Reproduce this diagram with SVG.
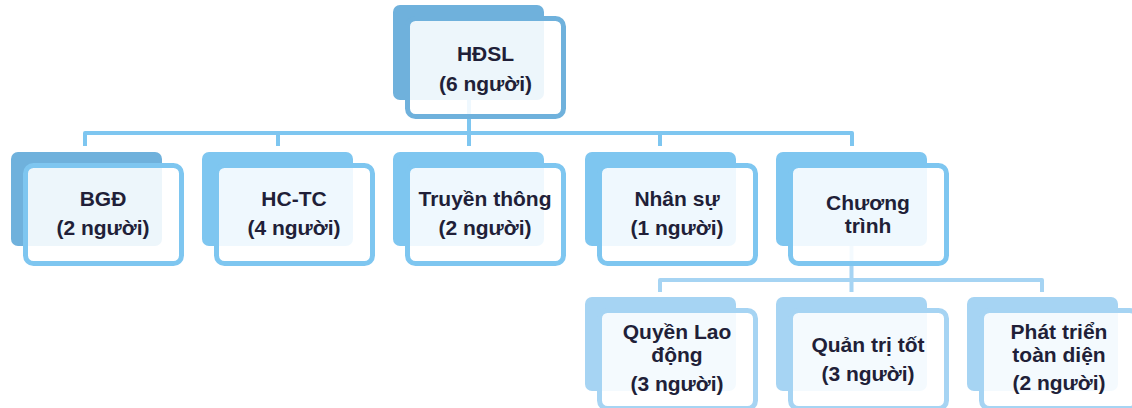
<svg xmlns="http://www.w3.org/2000/svg" width="1132" height="408" viewBox="0 0 1132 408">
<style>
.bk1{fill:#6fb1dc}
.bk2{fill:#7ec6f0}
.bk3{fill:#a6d4f3}
.fr{fill:#ffffff;fill-opacity:0.88;stroke-width:5}
.s1{stroke:#6fb1dc}
.s2{stroke:#7ec6f0}
.s3{stroke:#a6d4f3}
text{font-family:"Liberation Sans",Arial,sans-serif;font-weight:bold;font-size:21px;fill:#211f38;text-anchor:middle}
.c{fill:none;stroke-width:4;stroke-linejoin:round}
</style>
<rect width="1132" height="408" fill="#ffffff"/>
<g id="connectors">
<path class="c" stroke="#7ec6f0" d="M85,146 V133 H852 V146 M278,133 V146 M469,100 V146 M660,133 V146"/>
<path class="c" stroke="#a6d4f3" d="M660,292 V280 H1042 V292 M851.5,245 V292"/>
</g>
<g id="hdsl">
<rect class="bk1" x="393" y="5" width="151" height="95" rx="7"/>
<rect class="fr s1" x="407.5" y="18.5" width="156" height="98" rx="8"/>
<text x="485.5" y="61">HĐSL</text>
<text x="485.5" y="91">(6 người)</text>
</g>
<g id="bgd">
<rect class="bk1" x="11" y="152" width="151" height="94" rx="7"/>
<rect class="fr s2" x="25.5" y="165.5" width="156" height="98" rx="8"/>
<text x="103" y="206">BGĐ</text>
<text x="103" y="235">(2 người)</text>
</g>
<g id="hctc">
<rect class="bk2" x="202" y="152" width="151" height="94" rx="7"/>
<rect class="fr s2" x="216.5" y="165.5" width="156" height="98" rx="8"/>
<text x="294" y="206">HC-TC</text>
<text x="294" y="235">(4 người)</text>
</g>
<g id="truyenthong">
<rect class="bk2" x="393" y="152" width="151" height="94" rx="7"/>
<rect class="fr s2" x="407.5" y="165.5" width="156" height="98" rx="8"/>
<text x="485" y="206">Truyền thông</text>
<text x="485" y="235">(2 người)</text>
</g>
<g id="nhansu">
<rect class="bk2" x="585" y="152" width="151" height="94" rx="7"/>
<rect class="fr s2" x="599.5" y="165.5" width="156" height="98" rx="8"/>
<text x="677" y="206">Nhân sự</text>
<text x="677" y="235">(1 người)</text>
</g>
<g id="chuongtrinh">
<rect class="bk2" x="776" y="152" width="151" height="94" rx="7"/>
<rect class="fr s2" x="790.5" y="165.5" width="156" height="98" rx="8"/>
<text x="868" y="210">Chương</text>
<text x="868" y="233">trình</text>
</g>
<g id="quyenlaodong">
<rect class="bk3" x="585" y="297" width="151" height="94" rx="7"/>
<rect class="fr s3" x="599.5" y="310.5" width="156" height="98" rx="8"/>
<text x="677" y="339">Quyền Lao</text>
<text x="677" y="362">động</text>
<text x="677" y="391">(3 người)</text>
</g>
<g id="quantritot">
<rect class="bk3" x="776" y="297" width="151" height="94" rx="7"/>
<rect class="fr s3" x="790.5" y="310.5" width="156" height="98" rx="8"/>
<text x="868" y="352">Quản trị tốt</text>
<text x="868" y="381">(3 người)</text>
</g>
<g id="phattrien">
<rect class="bk3" x="967" y="297" width="151" height="94" rx="7"/>
<rect class="fr s3" x="981.5" y="310.5" width="156" height="98" rx="8"/>
<text x="1059" y="339">Phát triển</text>
<text x="1059" y="362">toàn diện</text>
<text x="1059" y="390">(2 người)</text>
</g>
</svg>
